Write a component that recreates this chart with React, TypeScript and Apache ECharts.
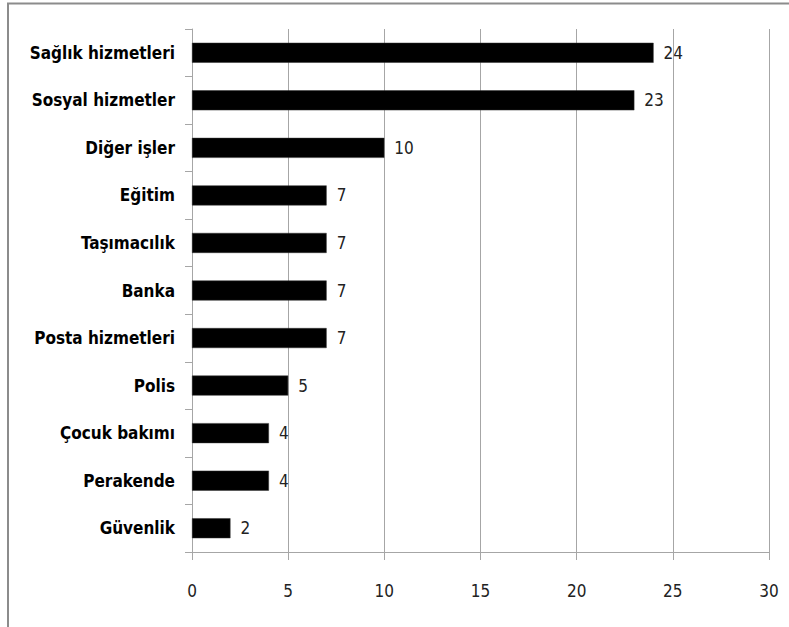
import React, { useEffect, useRef } from "react";
import * as echarts from "echarts";

const categories = [
  "Sağlık hizmetleri",
  "Sosyal hizmetler",
  "Diğer işler",
  "Eğitim",
  "Taşımacılık",
  "Banka",
  "Posta hizmetleri",
  "Polis",
  "Çocuk bakımı",
  "Perakende",
  "Güvenlik",
];
const values = [24, 23, 10, 7, 7, 7, 7, 5, 4, 4, 2];
const axisMin = 0;
const axisMax = 30;
const axisStep = 5;

export default function App() {
  const ref = useRef<HTMLDivElement>(null);
  useEffect(() => {
    document.body.style.margin = "0";
    const chart = echarts.init(ref.current!, null, { renderer: "svg" });
    const gray = "#a6a6a6";
    chart.setOption({
      animation: false,
      backgroundColor: "#ffffff",
      grid: { left: 192, right: 20, top: 29, bottom: 75, containLabel: false },
      xAxis: {
        type: "value",
        min: axisMin,
        max: axisMax,
        interval: axisStep,
        axisLine: { show: true, lineStyle: { color: gray, width: 1 } },
        axisTick: { show: true, length: 8, lineStyle: { color: gray } },
        splitLine: { show: true, lineStyle: { color: gray, width: 1 } },
        axisLabel: {
          margin: 30,
          fontSize: 17,
          color: "#222",
          fontFamily: "'Liberation Sans Narrow', 'Arial Narrow', 'DejaVu Sans Condensed', sans-serif",
        },
      },
      yAxis: {
        type: "category",
        data: categories,
        inverse: true,
        axisLine: { show: true, lineStyle: { color: gray, width: 1 } },
        axisTick: { show: true, length: 7, alignWithLabel: false, lineStyle: { color: gray } },
        axisLabel: {
          margin: 17,
          fontSize: 17,
          fontWeight: "bold",
          color: "#000",
          fontFamily: "'Liberation Sans Narrow', 'Arial Narrow', 'DejaVu Sans Condensed', sans-serif",
        },
      },
      series: [
        {
          type: "bar",
          data: values,
          barWidth: 20,
          itemStyle: { color: "#000000", borderColor: "#333", borderWidth: 0.5 },
          label: {
            show: true,
            position: "right",
            distance: 10,
            fontSize: 17,
            color: "#222",
            fontFamily: "'Liberation Sans Narrow', 'Arial Narrow', 'DejaVu Sans Condensed', sans-serif",
          },
        },
      ],
      graphic: [
        {
          type: "polyline",
          shape: { points: [[8, 627], [8, 3.5], [789, 3.5]] },
          style: { stroke: "#8c8c8c", lineWidth: 2, fill: "none" },
          silent: true,
        },
      ],
    });
    return () => chart.dispose();
  }, []);
  return <div ref={ref} style={{ width: 789, height: 627 }} />;
}
